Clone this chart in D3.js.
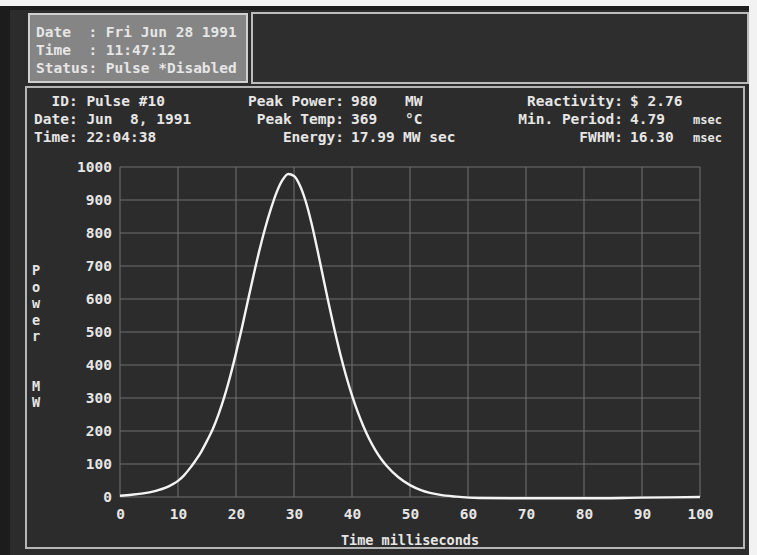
<!DOCTYPE html>
<html>
<head>
<meta charset="utf-8">
<script src="https://cdn.jsdelivr.net/npm/d3@7/dist/d3.min.js"></script>
<style>
  html, body { margin: 0; padding: 0; background: #f2f2f2; }
  svg { display: block; }
  text { font-family: "DejaVu Sans Mono", "Liberation Mono", monospace; font-weight: bold; fill: #e6e6e6; }
</style>
</head>
<body>
<div id="chart"></div>
<script>
// Pulse power trace (time in ms, power in MW)
const timeMs = [0, 2, 4, 6, 8, 9, 10, 11, 12, 13, 14, 15, 16, 17, 18, 19, 20, 21, 22, 23, 24, 25, 26, 27, 28, 29,
  30, 31, 32, 33, 34, 35, 36, 37, 38, 39, 40, 41, 42, 43, 44, 45, 46, 48, 50, 52, 55, 58, 62, 70, 80, 90, 100];
const powerMW = [4, 7, 11, 18, 29, 38, 49, 65, 86, 110, 137, 170, 206, 251, 304, 366, 436, 511, 591, 670, 745, 813, 872, 923, 960, 979,
  973, 945, 897, 831, 752, 668, 585, 505, 432, 366, 308, 257, 213, 175, 143, 116, 94, 60, 36, 20, 7, 1, -3, -4, -4, -2, 0];

const xTicks = [0, 10, 20, 30, 40, 50, 60, 70, 80, 90, 100];
const yTicks = [0, 100, 200, 300, 400, 500, 600, 700, 800, 900, 1000];

const statusLines = ['Date  : Fri Jun 28 1991', 'Time  : 11:47:12', 'Status: Pulse *Disabled'];
const infoLeft = ['  ID: Pulse #10', 'Date: Jun  8, 1991', 'Time: 22:04:38'];
const infoMidLabels = ['Peak Power:', 'Peak Temp:', 'Energy:'];
const infoMidValues = ['980', '369', '17.99'];
const infoMidUnits = ['MW', '°C', 'MW sec'];
const infoRightLabels = ['Reactivity:', 'Min. Period:', 'FWHM:'];
const infoRightValues = ['$ 2.76', '4.79', '16.30'];
const infoRightUnits = ['', 'msec', 'msec'];
const yTitle = ['P', 'o', 'w', 'e', 'r', '', '', 'M', 'W'];

const W = 757, H = 555;
const svg = d3.select('#chart').append('svg').attr('width', W).attr('height', H);

// screen background
svg.append('rect').attr('x', 0).attr('y', 6).attr('width', 749).attr('height', H - 6).attr('fill', '#1c1c1c');
svg.append('rect').attr('x', 10).attr('y', 10).attr('width', 739).attr('height', H - 10).attr('fill', '#2c2c2c');

// status box (top left)
svg.append('rect').attr('x', 29).attr('y', 14).attr('width', 218).attr('height', 68)
  .attr('fill', '#858585').attr('stroke', '#d0d0d0').attr('stroke-width', 2);
// empty message box (top right)
svg.append('rect').attr('x', 252).attr('y', 13).attr('width', 496).attr('height', 70)
  .attr('fill', '#2e2e2e').attr('stroke', '#bdbdbd').attr('stroke-width', 2);
// lower panel
svg.append('rect').attr('x', 26).attr('y', 87).attr('width', 718).attr('height', 461)
  .attr('fill', 'none').attr('stroke', '#b5b5b5').attr('stroke-width', 2);

svg.append('g').selectAll('text').data(statusLines).join('text')
  .attr('x', 36).attr('y', (d, i) => 37 + i * 18)
  .attr('font-size', 14.5).style('white-space', 'pre')
  .text(d => d);

// header rows of lower panel
const rowY = i => 106 + i * 18;
svg.append('g').selectAll('text').data(infoLeft).join('text')
  .attr('x', 34).attr('y', (d, i) => rowY(i)).attr('font-size', 14.5).style('white-space', 'pre')
  .text(d => d);
svg.append('g').selectAll('text').data(infoMidLabels).join('text')
  .attr('x', 344).attr('y', (d, i) => rowY(i)).attr('font-size', 14.5).attr('text-anchor', 'end')
  .text(d => d);
svg.append('g').selectAll('text').data(infoMidValues).join('text')
  .attr('x', 351).attr('y', (d, i) => rowY(i)).attr('font-size', 14.5)
  .text(d => d);
svg.append('g').selectAll('text').data(infoMidUnits).join('text')
  .attr('x', (d, i) => i === 2 ? 403 : 405).attr('y', (d, i) => rowY(i)).attr('font-size', 14.5)
  .text(d => d);
svg.append('g').selectAll('text').data(infoRightLabels).join('text')
  .attr('x', 623).attr('y', (d, i) => rowY(i)).attr('font-size', 14.5).attr('text-anchor', 'end')
  .text(d => d);
svg.append('g').selectAll('text').data(infoRightValues).join('text')
  .attr('x', 630).attr('y', (d, i) => rowY(i)).attr('font-size', 14.5)
  .text(d => d);
svg.append('g').selectAll('text').data(infoRightUnits).join('text')
  .attr('x', 722).attr('y', (d, i) => rowY(i)).attr('font-size', 12).attr('text-anchor', 'end')
  .text(d => d);

// plot
const x = d3.scaleLinear().domain([0, 100]).range([120, 700]);
const y = d3.scaleLinear().domain([0, 1000]).range([497, 167]);

const grid = svg.append('g').attr('stroke', '#8a8a8a').attr('stroke-width', 1.1).attr('opacity', 0.7);
grid.selectAll('.vg').data(xTicks).join('line').attr('class', 'vg')
  .attr('x1', d => x(d)).attr('x2', d => x(d)).attr('y1', y(1000)).attr('y2', y(0));
grid.selectAll('.hg').data(yTicks).join('line').attr('class', 'hg')
  .attr('x1', x(0)).attr('x2', x(100)).attr('y1', d => y(d)).attr('y2', d => y(d));

const xAxis = d3.axisBottom(x).tickValues(xTicks).tickSize(0).tickPadding(9);
svg.append('g').attr('transform', `translate(0,${y(0) + 3})`).call(xAxis)
  .call(g => g.select('.domain').remove())
  .call(g => g.selectAll('text').attr('font-size', 14.5).attr('fill', '#e6e6e6')
    .attr('font-family', '"DejaVu Sans Mono", monospace'));

const yAxis = d3.axisLeft(y).tickValues(yTicks).tickFormat(d3.format('d')).tickSize(0).tickPadding(8);
svg.append('g').attr('transform', `translate(${x(0)},0)`).call(yAxis)
  .call(g => g.select('.domain').remove())
  .call(g => g.selectAll('text').attr('font-size', 14.5).attr('fill', '#e6e6e6')
    .attr('font-family', '"DejaVu Sans Mono", monospace'));

svg.append('text').attr('x', x(50)).attr('y', 545).attr('text-anchor', 'middle')
  .attr('font-size', 13.5).text('Time milliseconds');

svg.append('g').selectAll('text').data(yTitle).join('text')
  .attr('x', 36).attr('y', (d, i) => 275 + i * 16.5).attr('text-anchor', 'middle')
  .attr('font-size', 13.5).text(d => d);

const line = d3.line().x((d, i) => x(timeMs[i])).y(d => y(d)).curve(d3.curveMonotoneX);
svg.append('path').datum(powerMW).attr('d', line)
  .attr('fill', 'none').attr('stroke', '#f4f4f4').attr('stroke-width', 2.4);
</script>
</body>
</html>
